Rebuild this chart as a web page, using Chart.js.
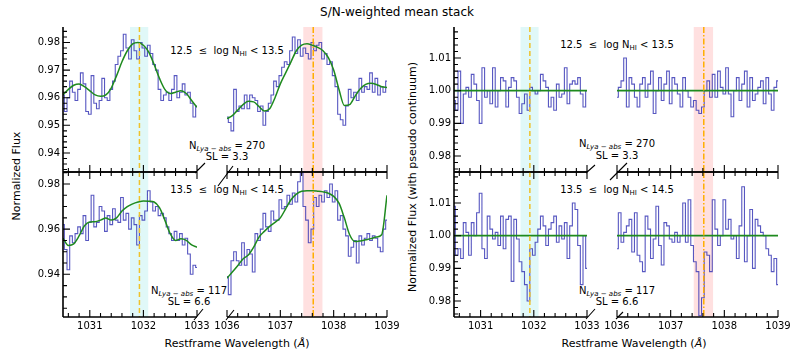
<!DOCTYPE html>
<html>
<head>
<meta charset="utf-8">
<script src="https://cdn.jsdelivr.net/npm/chart.js@4.4.0/dist/chart.umd.min.js"></script>
<style>
  body { margin: 0; width: 793px; height: 353px; position: relative; overflow: hidden; background: #fff; font-family: 'DejaVu Sans', sans-serif; color: #000; }
  canvas { position: absolute; }
  .t { position: absolute; white-space: nowrap; line-height: 1; transform: translate(-50%, -50%); }
  .rot { transform: translate(-50%, -50%) rotate(-90deg); }
  .ann { font-size: 10px; }
  .t sub { font-size: 70%; vertical-align: -0.3em; line-height: 0; }
</style>
</head>
<body>

<div class="t" style="left:397px;top:12px;font-size:12px">S/N-weighted mean stack</div>
<div class="t rot" style="left:16px;top:176px;font-size:11px">Normalized Flux</div>
<div class="t rot" style="left:412px;top:177px;font-size:11px">Normalized Flux (with pseudo continuum)</div>
<div class="t" style="left:237px;top:343px;font-size:11px">Restframe Wavelength (<i>Å</i>)</div>
<div class="t" style="left:634px;top:343px;font-size:11px">Restframe Wavelength (<i>Å</i>)</div>

<div class="t ann" style="left:227px;top:51px">12.5 &nbsp;≤&nbsp; log N<sub>HI</sub> &lt; 13.5</div>
<div class="t ann" style="left:227px;top:146px">N<sub><i>Lya</i> − <i>abs</i></sub> = 270</div>
<div class="t ann" style="left:227px;top:157px">SL = 3.3</div>
<div class="t ann" style="left:227px;top:190px">13.5 &nbsp;≤&nbsp; log N<sub>HI</sub> &lt; 14.5</div>
<div class="t ann" style="left:189px;top:291px">N<sub><i>Lya</i> − <i>abs</i></sub> = 117</div>
<div class="t ann" style="left:189px;top:302px">SL = 6.6</div>

<div class="t ann" style="left:617px;top:45px">12.5 &nbsp;≤&nbsp; log N<sub>HI</sub> &lt; 13.5</div>
<div class="t ann" style="left:617px;top:144px">N<sub><i>Lya</i> − <i>abs</i></sub> = 270</div>
<div class="t ann" style="left:617px;top:156px">SL = 3.3</div>
<div class="t ann" style="left:617px;top:190px">13.5 &nbsp;≤&nbsp; log N<sub>HI</sub> &lt; 14.5</div>
<div class="t ann" style="left:617px;top:291px">N<sub><i>Lya</i> − <i>abs</i></sub> = 117</div>
<div class="t ann" style="left:617px;top:302px">SL = 6.6</div>

<script>
// wavelength grids (Angstrom)
const waveBlue = [
  1030.50, 1030.55, 1030.60, 1030.65, 1030.70, 1030.75, 1030.80, 1030.85, 1030.90, 1030.95,
  1031.00, 1031.05, 1031.10, 1031.15, 1031.20, 1031.25, 1031.30, 1031.35, 1031.40, 1031.45,
  1031.50, 1031.55, 1031.60, 1031.65, 1031.70, 1031.75, 1031.80, 1031.85, 1031.90, 1031.95,
  1032.00, 1032.05, 1032.10, 1032.15, 1032.20, 1032.25, 1032.30, 1032.35, 1032.40, 1032.45,
  1032.50, 1032.55, 1032.60, 1032.65, 1032.70, 1032.75, 1032.80, 1032.85, 1032.90, 1032.95,
  1033.00
];
const waveRed = [
  1036.00, 1036.05, 1036.10, 1036.15, 1036.20, 1036.25, 1036.30, 1036.35, 1036.40, 1036.45,
  1036.50, 1036.55, 1036.60, 1036.65, 1036.70, 1036.75, 1036.80, 1036.85, 1036.90, 1036.95,
  1037.00, 1037.05, 1037.10, 1037.15, 1037.20, 1037.25, 1037.30, 1037.35, 1037.40, 1037.45,
  1037.50, 1037.55, 1037.60, 1037.65, 1037.70, 1037.75, 1037.80, 1037.85, 1037.90, 1037.95,
  1038.00, 1038.05, 1038.10, 1038.15, 1038.20, 1038.25, 1038.30, 1038.35, 1038.40, 1038.45,
  1038.50, 1038.55, 1038.60, 1038.65, 1038.70, 1038.75, 1038.80, 1038.85, 1038.90, 1038.95,
  1039.00
];
const waveFitBlue = [
  1030.5, 1030.6, 1030.7, 1030.8, 1030.9, 1031.0, 1031.1, 1031.2, 1031.3, 1031.4,
  1031.5, 1031.6, 1031.7, 1031.8, 1031.9, 1032.0, 1032.1, 1032.2, 1032.3, 1032.4,
  1032.5, 1032.6, 1032.7, 1032.8, 1032.9, 1033.0
];
const waveFitRed = [
  1036.0, 1036.1, 1036.2, 1036.3, 1036.4, 1036.5, 1036.6, 1036.7, 1036.8, 1036.9,
  1037.0, 1037.1, 1037.2, 1037.3, 1037.4, 1037.5, 1037.6, 1037.7, 1037.8, 1037.9,
  1038.0, 1038.1, 1038.2, 1038.3, 1038.4, 1038.5, 1038.6, 1038.7, 1038.8, 1038.9,
  1039.0
];
const waveContBlue = [1030.5, 1033.0];
const waveContRed = [1036.0, 1039.0];

// 12.5 <= log NHI < 13.5, normalized flux
const fluxLowBlue = [
  0.961, 0.955, 0.960, 0.966, 0.962, 0.959, 0.963, 0.969, 0.965, 0.955,
  0.954, 0.968, 0.958, 0.956, 0.959, 0.967, 0.960, 0.959, 0.963, 0.966,
  0.972, 0.975, 0.977, 0.983, 0.978, 0.974, 0.981, 0.977, 0.974, 0.980,
  0.978, 0.975, 0.979, 0.976, 0.972, 0.970, 0.963, 0.959, 0.961, 0.962,
  0.959, 0.963, 0.968, 0.960, 0.962, 0.965, 0.961, 0.962, 0.958, 0.953,
  0.957
];
const fluxLowRed = [
  0.953, 0.951, 0.948, 0.963, 0.955, 0.957, 0.956, 0.961, 0.956, 0.961,
  0.960, 0.959, 0.955, 0.957, 0.950, 0.955, 0.958, 0.961, 0.966, 0.964,
  0.968, 0.971, 0.973, 0.972, 0.977, 0.982, 0.976, 0.981, 0.975, 0.978,
  0.976, 0.974, 0.980, 0.977, 0.979, 0.980, 0.974, 0.976, 0.972, 0.973,
  0.968, 0.964, 0.954, 0.952, 0.950, 0.957, 0.963, 0.960, 0.962, 0.959,
  0.967, 0.962, 0.964, 0.963, 0.969, 0.962, 0.967, 0.961, 0.964, 0.962,
  0.966
];
const fitLowBlue = [
  0.9610, 0.9630, 0.9645, 0.9650, 0.9640, 0.9625, 0.9610, 0.9605, 0.9610, 0.9635,
  0.9680, 0.9730, 0.9770, 0.9795, 0.9800, 0.9790, 0.9765, 0.9720, 0.9670, 0.9630,
  0.9615, 0.9620, 0.9625, 0.9615, 0.9590, 0.9565
];
const fitLowRed = [
  0.9524, 0.9535, 0.9555, 0.9575, 0.9587, 0.9585, 0.9568, 0.9552, 0.9560, 0.9600,
  0.9650, 0.9690, 0.9730, 0.9770, 0.9790, 0.9795, 0.9790, 0.9782, 0.9770, 0.9745,
  0.9700, 0.9630, 0.9572, 0.9575, 0.9605, 0.9632, 0.9648, 0.9652, 0.9648, 0.9640,
  0.9637
];

// 13.5 <= log NHI < 14.5, normalized flux
const fluxHighBlue = [
  0.962, 0.951, 0.942, 0.957, 0.954, 0.958, 0.961, 0.958, 0.966, 0.955,
  0.963, 0.975, 0.961, 0.963, 0.970, 0.968, 0.959, 0.966, 0.962, 0.969,
  0.964, 0.963, 0.974, 0.964, 0.967, 0.960, 0.965, 0.962, 0.953, 0.966,
  0.964, 0.968, 0.977, 0.972, 0.968, 0.970, 0.966, 0.967, 0.965, 0.961,
  0.958, 0.955, 0.959, 0.955, 0.958, 0.953, 0.956, 0.949, 0.940, 0.944,
  0.943
];
const fluxHighRed = [
  0.939, 0.931, 0.946, 0.950, 0.946, 0.944, 0.954, 0.944, 0.951, 0.949,
  0.941, 0.958, 0.955, 0.960, 0.967, 0.961, 0.959, 0.968, 0.964, 0.964,
  0.973, 0.969, 0.970, 0.975, 0.971, 0.976, 0.972, 0.981, 0.985, 0.970,
  0.964, 0.954, 0.960, 0.974, 0.970, 0.975, 0.972, 0.977, 0.974, 0.980,
  0.972, 0.977, 0.964, 0.966, 0.960, 0.957, 0.948, 0.952, 0.955, 0.945,
  0.957, 0.953, 0.956, 0.958, 0.955, 0.957, 0.956, 0.952, 0.950, 0.960,
  0.964
];
const fitHighBlue = [
  0.9560, 0.9528, 0.9535, 0.9570, 0.9615, 0.9632, 0.9633, 0.9640, 0.9649, 0.9640,
  0.9650, 0.9680, 0.9700, 0.9712, 0.9720, 0.9725, 0.9724, 0.9720, 0.9695, 0.9640,
  0.9580, 0.9550, 0.9557, 0.9550, 0.9530, 0.9520
];
const fitHighRed = [
  0.9383, 0.9410, 0.9438, 0.9468, 0.9485, 0.9520, 0.9565, 0.9590, 0.9612, 0.9630,
  0.9650, 0.9690, 0.9730, 0.9755, 0.9768, 0.9770, 0.9770, 0.9768, 0.9765, 0.9759,
  0.9745, 0.9715, 0.9650, 0.9575, 0.9545, 0.9548, 0.9553, 0.9558, 0.9565, 0.9575,
  0.9750
];

// flux divided by the pseudo continuum
const normLowBlue = [
  0.997, 0.994, 1.006, 0.990, 0.999, 1.001, 0.998, 1.005, 1.002, 0.997,
  0.990, 1.007, 0.998, 1.000, 0.996, 1.007, 0.995, 1.000, 1.004, 1.003,
  0.995, 1.001, 1.004, 1.003, 0.998, 0.993, 0.996, 0.999, 0.994, 1.001,
  1.000, 0.999, 1.000, 1.005, 1.003, 1.001, 0.995, 0.998, 0.994, 1.002,
  0.998, 0.999, 1.007, 0.996, 1.002, 1.003, 1.002, 1.004, 0.999, 0.995,
  1.000
];
const normLowRed = [
  0.998, 1.001, 1.003, 1.010, 0.995, 1.004, 1.002, 0.998, 0.995, 1.002,
  1.004, 0.998, 1.002, 1.006, 0.993, 1.000, 1.004, 0.997, 1.002, 1.006,
  0.996, 1.004, 1.002, 0.999, 0.995, 1.004, 1.000, 0.998, 0.995, 0.997,
  0.994, 0.993, 0.995, 1.000, 1.003, 0.998, 1.005, 0.998, 1.006, 1.001,
  0.999, 1.007, 0.999, 0.992, 1.000, 1.004, 0.997, 1.002, 1.006, 0.995,
  1.004, 0.997, 0.999, 1.001, 1.003, 0.996, 1.004, 0.999, 0.994, 1.001,
  1.003
];
const normHighBlue = [
  1.009, 0.994, 0.996, 0.993, 1.004, 1.001, 0.994, 1.004, 1.000, 1.007,
  1.013, 0.996, 0.993, 1.006, 1.002, 0.999, 1.001, 0.997, 1.006, 0.996,
  1.005, 1.006, 0.986, 1.005, 0.999, 0.992, 0.989, 0.985, 0.980, 0.996,
  0.994, 0.998, 1.002, 1.006, 1.003, 0.997, 1.002, 1.004, 1.006, 0.998,
  1.003, 0.999, 1.004, 0.993, 1.003, 1.010, 1.008, 0.997, 0.985, 1.000,
  0.990
];
const normHighRed = [
  0.996, 1.007, 0.998, 1.001, 1.003, 1.005, 0.995, 1.007, 0.994, 0.992,
  0.989, 1.006, 1.002, 0.993, 0.999, 1.009, 0.997, 0.991, 1.004, 1.003,
  0.999, 0.998, 1.001, 0.998, 1.000, 1.010, 0.998, 1.011, 0.997, 0.992,
  0.989, 0.9755, 0.981, 0.995, 0.994, 0.989, 1.011, 1.002, 0.997, 1.000,
  1.011, 1.002, 1.005, 0.999, 1.000, 0.993, 1.003, 1.015, 0.992, 1.000,
  1.008, 0.990, 1.005, 1.003, 1.001, 1.000, 0.996, 0.994, 0.989, 0.993,
  0.985
];
const contLevel = [1.0, 1.0];

// O VI doublet positions and the shaded windows
const o6Blue = 1031.926;
const o6Red = 1037.617;
const bandBlue = [1031.75, 1032.09];
const bandRed = [1037.43, 1037.79];

// tick labels
const xTicksBlue = [1031, 1032, 1033];
const xTicksRed = [1036, 1037, 1038, 1039];
const yTicksLow = [0.94, 0.95, 0.96, 0.97, 0.98];
const yTicksHigh = [0.94, 0.96, 0.98];
const yTicksNorm = [0.98, 0.99, 1.00, 1.01];

const FONT = '"DejaVu Sans", sans-serif';
const BLUE = 'rgba(45, 45, 178, 0.8)';
const GREEN = '#1e8a1e';

function ticksBetween(min, max, step, majors) {
  const out = [];
  for (let k = Math.ceil(min / step - 1e-6); k * step <= max + 1e-9; k++) {
    const v = +(k * step).toFixed(4);
    if (!majors.some(m => Math.abs(m - v) < 1e-6)) out.push(v);
  }
  return out;
}

// spines, inward ticks, labels, shaded window, line marker and break marks
const frame = {
  id: 'frame',
  beforeDatasetsDraw(chart, _a, o) {
    const { ctx, chartArea: c, scales: { x } } = chart;
    const b0 = x.getPixelForValue(o.band[0]), b1 = x.getPixelForValue(o.band[1]);
    ctx.save();
    ctx.fillStyle = o.bandColor;
    ctx.fillRect(b0, c.top, b1 - b0, c.bottom - c.top);
    ctx.restore();
  },
  afterDatasetsDraw(chart, _a, o) {
    const { ctx, chartArea: c, scales: { x } } = chart;
    const lx = x.getPixelForValue(o.line);
    ctx.save();
    ctx.strokeStyle = o.lineColor;
    ctx.lineWidth = 1.5;
    ctx.setLineDash(o.dash);
    ctx.beginPath();
    ctx.moveTo(lx, c.top);
    ctx.lineTo(lx, c.bottom);
    ctx.stroke();
    ctx.restore();
  },
  afterDraw(chart, _a, o) {
    const { ctx, chartArea: c, scales: { x, y } } = chart;
    ctx.save();
    ctx.strokeStyle = '#000';
    ctx.fillStyle = '#000';
    ctx.lineWidth = 1.6;
    ctx.beginPath();
    ctx.moveTo(c.left, c.bottom); ctx.lineTo(c.right, c.bottom);
    if (o.topSpine) { ctx.moveTo(c.left, c.top); ctx.lineTo(c.right, c.top); }
    if (o.showY) { ctx.moveTo(c.left, c.top); ctx.lineTo(c.left, c.bottom); }
    ctx.stroke();

    ctx.lineWidth = 1.1;
    ctx.beginPath();
    const xt = (v, len) => {
      const p = x.getPixelForValue(v);
      ctx.moveTo(p, c.bottom); ctx.lineTo(p, c.bottom - len);
      if (o.topSpine) { ctx.moveTo(p, c.top); ctx.lineTo(p, c.top + len); }
    };
    o.xTicks.forEach(v => xt(v, 7));
    ticksBetween(x.min, x.max, 0.2, o.xTicks).forEach(v => xt(v, 4));
    if (o.showY) {
      const yt = (v, len) => {
        const p = y.getPixelForValue(v);
        ctx.moveTo(c.left, p); ctx.lineTo(c.left + len, p);
      };
      o.yTicks.forEach(v => yt(v, 7));
      ticksBetween(y.min, y.max, o.yMinor, o.yTicks).forEach(v => yt(v, 4));
    }
    // break marks
    o.marks.forEach(([side, vert, x1, y1, x2, y2]) => {
      const cx = side === 'l' ? c.left : c.right;
      const cy = vert === 't' ? c.top : c.bottom;
      ctx.moveTo(cx + x1, cy + y1); ctx.lineTo(cx + x2, cy + y2);
    });
    ctx.stroke();

    ctx.font = '10px ' + FONT;
    if (o.showY) {
      ctx.textAlign = 'right';
      ctx.textBaseline = 'middle';
      o.yTicks.forEach(v => ctx.fillText(v.toFixed(2), c.left - 3, y.getPixelForValue(v)));
    }
    if (o.xLabels) {
      ctx.textAlign = 'center';
      ctx.textBaseline = 'middle';
      o.xTicks.forEach(v => ctx.fillText(String(v), x.getPixelForValue(v), c.bottom + 9));
    }
    ctx.restore();
  }
};

const blueSide = { wave: waveBlue, fitWave: waveFitBlue, contWave: waveContBlue, xr: [1030.5, 1033], xTicks: xTicksBlue,
  band: bandBlue, bandColor: 'rgba(0, 200, 200, 0.12)', line: o6Blue, lineColor: '#efc22a', dash: [5, 3], showY: true };
const redSide = { wave: waveRed, fitWave: waveFitRed, contWave: waveContRed, xr: [1036, 1039], xTicks: xTicksRed,
  band: bandRed, bandColor: 'rgba(255, 0, 0, 0.12)', line: o6Red, lineColor: '#ffae00', dash: [6, 2, 1.5, 2], showY: false };

const rowLow = { topSpine: false, xLabels: false };
const rowHigh = { topSpine: true, xLabels: true };

// box: [left, top, width, height] of each plot area
const panels = [
  { box: [63, 27, 134, 145], side: blueSide, row: rowLow, flux: fluxLowBlue, fit: fitLowBlue, yr: [0.9331, 0.9856], yTicks: yTicksLow, yMinor: 0.002,
    marks: [['r', 'b', -2, 1, 8, -9]] },
  { box: [227, 27, 160, 145], side: redSide, row: rowLow, flux: fluxLowRed, fit: fitLowRed, yr: [0.9331, 0.9856], yTicks: yTicksLow, yMinor: 0.002,
    marks: [['l', 'b', -9, 14, 6, -6]] },
  { box: [63, 172, 134, 145], side: blueSide, row: rowHigh, flux: fluxHighBlue, fit: fitHighBlue, yr: [0.9211, 0.9853], yTicks: yTicksHigh, yMinor: 0.005,
    marks: [['r', 'b', -3, 3, 6, -8]] },
  { box: [227, 172, 160, 145], side: redSide, row: rowHigh, flux: fluxHighRed, fit: fitHighRed, yr: [0.9211, 0.9853], yTicks: yTicksHigh, yMinor: 0.005,
    marks: [['l', 'b', -1, 3, 7, -7]] },
  { box: [454, 27, 133, 145], side: blueSide, row: rowLow, flux: normLowBlue, fit: contLevel, cont: true, yr: [0.9751, 1.0195], yTicks: yTicksNorm, yMinor: 0.002,
    marks: [['r', 'b', -1, 1, 8, -7]] },
  { box: [617, 27, 161, 145], side: redSide, row: rowLow, flux: normLowRed, fit: contLevel, cont: true, yr: [0.9751, 1.0195], yTicks: yTicksNorm, yMinor: 0.002,
    marks: [['l', 'b', -7, 8, 10, -9]] },
  { box: [454, 172, 133, 145], side: blueSide, row: rowHigh, flux: normHighBlue, fit: contLevel, cont: true, yr: [0.9751, 1.0195], yTicks: yTicksNorm, yMinor: 0.002,
    marks: [['r', 'b', -1, 2, 8, -8]] },
  { box: [617, 172, 161, 145], side: redSide, row: rowHigh, flux: normHighRed, fit: contLevel, cont: true, yr: [0.9751, 1.0195], yTicks: yTicksNorm, yMinor: 0.002,
    marks: [['l', 'b', -1, 2, 6, -5]] }
];

const PAD = { left: 40, right: 16, top: 8, bottom: 24 };

panels.forEach(p => {
  const [L, T, W, H] = p.box;
  const s = p.side;
  const cv = document.createElement('canvas');
  cv.width = W + PAD.left + PAD.right;
  cv.height = H + PAD.top + PAD.bottom;
  cv.style.left = (L - PAD.left) + 'px';
  cv.style.top = (T - PAD.top) + 'px';
  document.body.appendChild(cv);

  const fitX = p.cont ? s.contWave : s.fitWave;
  new Chart(cv, {
    type: 'line',
    data: {
      datasets: [
        { data: fitX.map((x, i) => ({ x, y: p.fit[i] })), borderColor: GREEN, borderWidth: p.cont ? 1.8 : 1.5,
          pointRadius: 0, cubicInterpolationMode: 'monotone' },
        { data: s.wave.map((x, i) => ({ x, y: p.flux[i] })), borderColor: BLUE, borderWidth: 1.1,
          pointRadius: 0, stepped: 'middle' }
      ]
    },
    options: {
      responsive: false, animation: false, devicePixelRatio: 1, events: [],
      layout: { padding: PAD },
      scales: {
        x: { type: 'linear', min: s.xr[0], max: s.xr[1], display: false },
        y: { type: 'linear', min: p.yr[0], max: p.yr[1], display: false }
      },
      plugins: {
        legend: { display: false }, tooltip: { enabled: false },
        frame: {
          band: s.band, bandColor: s.bandColor, line: s.line, lineColor: s.lineColor, dash: s.dash,
          showY: s.showY, xTicks: s.xTicks, yTicks: p.yTicks, yMinor: p.yMinor,
          topSpine: p.row.topSpine, xLabels: p.row.xLabels, marks: p.marks
        }
      }
    },
    plugins: [frame]
  });
});
</script>
</body>
</html>
